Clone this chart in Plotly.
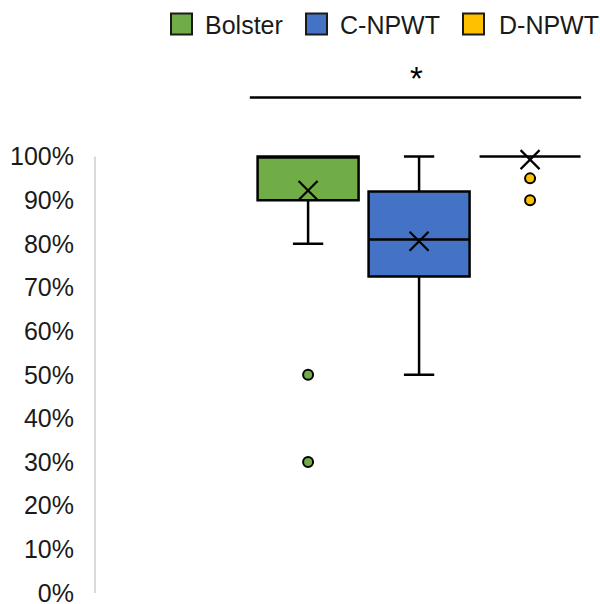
import plotly.graph_objects as go

groups = ["Bolster", "C-NPWT", "D-NPWT"]
colors = ["#70AD47", "#4472C4", "#FFC000"]
q1 = [90, 72.5, 100]
median = [100, 81, 100]
q3 = [100, 92, 100]
lower = [80, 50, 100]
upper = [100, 100, 100]
mean = [92.2, 80.6, 99.3]
outliers = [[50, 30], [], [95, 90]]
yticks = [0, 10, 20, 30, 40, 50, 60, 70, 80, 90, 100]
ytick_text = [f"{v}%" for v in yticks]

FONT = "Liberation Sans, Arial, sans-serif"
YTOP = 101.5
PLOT_H = YTOP * 4.36
PLOT_L, PLOT_W = 95, 495


def px_x(px):
    return (px - PLOT_L) / PLOT_W


def px_y(py):
    return (593 - py) / PLOT_H


fig = go.Figure()
for i, g in enumerate(groups):
    fig.add_trace(go.Box(
        x=[i], q1=[q1[i]], median=[median[i]], q3=[q3[i]],
        lowerfence=[lower[i]], upperfence=[upper[i]],
        fillcolor=colors[i], line=dict(color="black", width=2.5),
        whiskerwidth=0.3, width=0.91, boxpoints=False,
        showlegend=False, name=g,
    ))
    if outliers[i]:
        fig.add_trace(go.Scatter(
            x=[i] * len(outliers[i]), y=outliers[i], mode="markers",
            marker=dict(color=colors[i], size=10, line=dict(color="black", width=2)),
            showlegend=False, cliponaxis=False,
        ))
    fig.add_trace(go.Scatter(
        x=[i], y=[mean[i]], mode="markers",
        marker=dict(symbol="x-thin", size=19, line=dict(color="black", width=2.2)),
        showlegend=False, cliponaxis=False,
    ))

# legend drawn as swatches + labels
legend_sq_left = [171, 306, 463]
legend_txt_left = [203, 338, 497]
for i, g in enumerate(groups):
    fig.add_shape(type="rect", xref="paper", yref="paper",
                  x0=px_x(legend_sq_left[i]), x1=px_x(legend_sq_left[i] + 21),
                  y0=px_y(35), y1=px_y(14),
                  fillcolor=colors[i], line=dict(color="#1a1a1a", width=2))
    fig.add_annotation(x=px_x(legend_txt_left[i]), y=px_y(26), xref="paper", yref="paper",
                       text=g, showarrow=False, xanchor="left", yanchor="middle",
                       font=dict(size=25, color="#1a1a1a", family=FONT))

# y axis line from 0% to 100%
fig.add_shape(type="line", xref="paper", yref="y", x0=0, x1=0, y0=0, y1=100,
              line=dict(color="#d9d9d9", width=2))
# significance bar
fig.add_shape(type="line", xref="x", yref="paper", x0=-0.525, x1=2.46,
              y0=px_y(98), y1=px_y(98),
              line=dict(color="black", width=2.5))
fig.add_annotation(x=0.98, y=px_y(79), xref="x", yref="paper", text="*",
                   showarrow=False, yanchor="middle",
                   font=dict(size=33, color="black", family=FONT))

fig.update_layout(
    width=600, height=604,
    margin=dict(l=PLOT_L, r=600 - PLOT_L - PLOT_W, t=593 - PLOT_H, b=11, autoexpand=False),
    plot_bgcolor="white", paper_bgcolor="white",
    font=dict(family=FONT, size=25, color="#1a1a1a"),
    showlegend=False,
    xaxis=dict(range=[-1.92, 2.54], showticklabels=False, showgrid=False, zeroline=False,
               showline=False, automargin=False),
    yaxis=dict(range=[0, YTOP], tickvals=yticks, ticktext=ytick_text, showgrid=False,
               zeroline=False, showline=False, ticklabeloverflow="allow",
               ticks="", ticklabelstandoff=20, automargin=False),
)
fig.write_html("out.html", config={"displayModeBar": False},
               post_script="document.body.style.margin='0';")
